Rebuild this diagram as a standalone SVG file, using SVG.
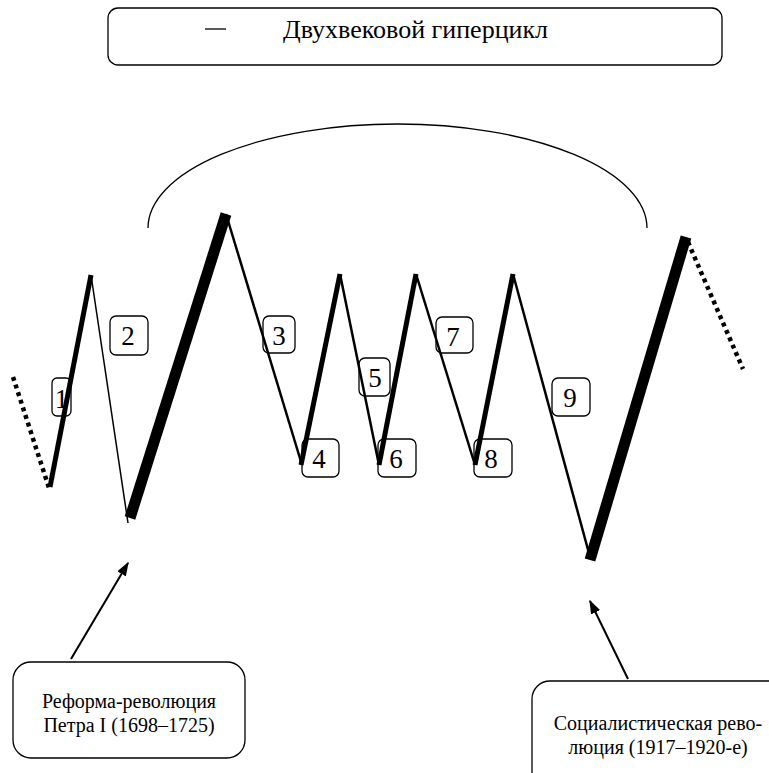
<svg xmlns="http://www.w3.org/2000/svg" width="769" height="773" viewBox="0 0 769 773">
<defs>
<style>
.box{fill:none;stroke:#000;stroke-width:1.3}
.t{font-family:"Liberation Serif","Times New Roman",serif;fill:#000}
.num{font-size:27px;text-anchor:middle}
.lbl{font-size:20px;text-anchor:middle}
.seg{stroke:#000;fill:none;stroke-linecap:butt}
.dot{stroke:#000;stroke-width:4.5;stroke-dasharray:4 4;fill:none}
.arr{stroke:#000;stroke-width:2;fill:none}
</style>
<marker id="ah" viewBox="0 0 10 10" refX="9" refY="5" markerWidth="14" markerHeight="10" markerUnits="userSpaceOnUse" orient="auto" preserveAspectRatio="none">
<path d="M0,0 L10,5 L0,10 z" fill="#000"/>
</marker>
</defs>
<rect width="769" height="773" fill="#fff"/>

<g id="title">
<rect class="box" x="108" y="8" width="614" height="57" rx="10"/>
<line x1="205" y1="29" x2="226" y2="29" stroke="#000" stroke-width="1.3"/>
<text class="t" x="283" y="38" font-size="26">Двухвековой гиперцикл</text>
</g>

<g id="arc">
<path d="M148,228 A249.5,104 0 0 1 647,228" fill="none" stroke="#000" stroke-width="1.3"/>
</g>

<g id="labels">
<g id="n1"><rect class="box" x="52" y="378" width="19" height="38" rx="5"/><text class="t num" x="61.5" y="408">1</text></g>
<g id="n2"><rect class="box" x="110" y="316" width="38" height="39" rx="6"/><text class="t num" x="128" y="345">2</text></g>
<g id="n3"><rect class="box" x="263" y="316" width="32" height="37" rx="6"/><text class="t num" x="279" y="345">3</text></g>
<g id="n4"><rect class="box" x="302" y="439" width="37" height="38" rx="6"/><text class="t num" x="319" y="468">4</text></g>
<g id="n5"><rect class="box" x="359" y="358" width="31" height="38" rx="6"/><text class="t num" x="375" y="387">5</text></g>
<g id="n6"><rect class="box" x="378" y="439" width="38" height="38" rx="6"/><text class="t num" x="396" y="468">6</text></g>
<g id="n7"><rect class="box" x="436" y="317" width="37" height="36" rx="6"/><text class="t num" x="453" y="346">7</text></g>
<g id="n8"><rect class="box" x="474" y="439" width="38" height="38" rx="6"/><text class="t num" x="491" y="468">8</text></g>
<g id="n9"><rect class="box" x="552" y="378" width="38" height="38" rx="6"/><text class="t num" x="570" y="407">9</text></g>
</g>

<g id="wave">
<line class="dot" x1="13" y1="377" x2="49" y2="488"/>
<line class="seg" x1="50" y1="487" x2="91" y2="275" stroke-width="5"/>
<line class="seg" x1="91" y1="275" x2="128" y2="523" stroke-width="1.5"/>
<line class="seg" x1="130" y1="518" x2="226" y2="214" stroke-width="11"/>
<line class="seg" x1="226" y1="214" x2="302" y2="465" stroke-width="2.5"/>
<line class="seg" x1="301" y1="465" x2="340" y2="274" stroke-width="5"/>
<line class="seg" x1="340" y1="274" x2="379" y2="465" stroke-width="2.5"/>
<line class="seg" x1="379" y1="465" x2="416" y2="274" stroke-width="5"/>
<line class="seg" x1="416" y1="274" x2="475" y2="465" stroke-width="2.5"/>
<line class="seg" x1="475" y1="465" x2="513" y2="274" stroke-width="5"/>
<line class="seg" x1="513" y1="274" x2="590" y2="557" stroke-width="2.5"/>
<line class="seg" x1="590" y1="560" x2="686" y2="237" stroke-width="11"/>
<line class="dot" x1="688" y1="242" x2="743" y2="369"/>
</g>

<g id="connectors">
<line class="arr" x1="71" y1="659" x2="128" y2="563" marker-end="url(#ah)"/>
<line class="arr" x1="628" y1="679" x2="590" y2="601" marker-end="url(#ah)"/>
</g>

<g id="peter">
<rect class="box" x="13" y="662" width="232" height="96" rx="18"/>
<text class="t lbl" x="129" y="708">Реформа-революция</text>
<text class="t lbl" x="129" y="732">Петра I (1698–1725)</text>
</g>

<g id="socrev">
<rect class="box" x="532" y="681" width="260" height="130" rx="18"/>
<text class="t lbl" x="658" y="730">Социалистическая рево-</text>
<text class="t lbl" x="658" y="754">люция (1917–1920-е)</text>
</g>
</svg>
